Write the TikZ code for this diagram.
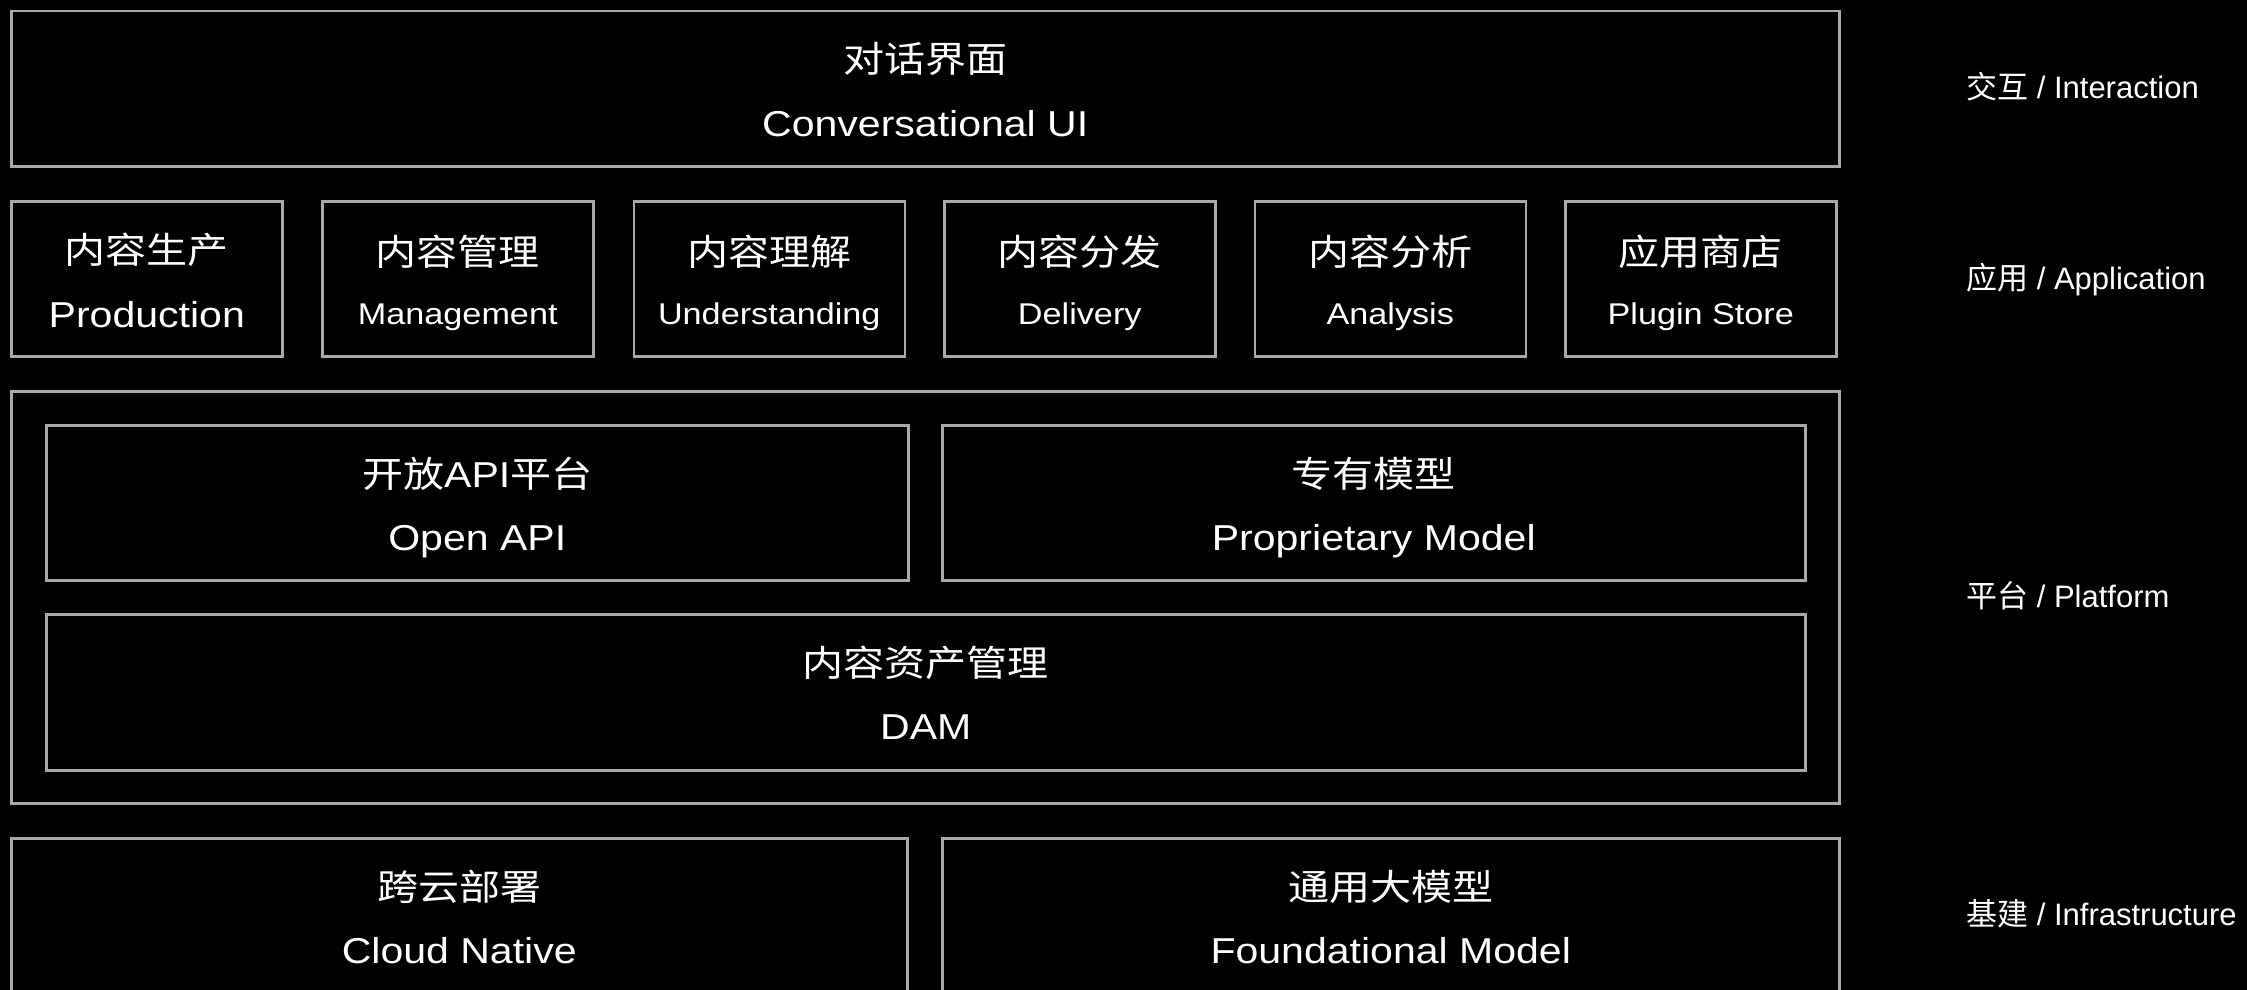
\documentclass[tikz,border=0pt]{standalone}
\usepackage{fontspec}
\setmainfont{Liberation Sans}
\newfontfamily\lat{Liberation Sans}[FakeStretch=1.14]
\newfontfamily\cjk{Noto Sans CJK SC}[FakeStretch=1.14]
\newfontfamily\cjkn{Noto Sans CJK SC}
\definecolor{edge}{HTML}{A8A8A8}
\tikzset{
  box/.style={draw=edge, line width=2.5pt, inner sep=0pt, anchor=north west},
  zh/.style={text=white, font=\cjk\fontsize{36}{40}\selectfont, anchor=base, inner sep=0pt},
  en/.style={text=white, font=\lat\fontsize{36}{40}\selectfont, anchor=base, inner sep=0pt},
  ensm/.style={text=white, font=\lat\fontsize{30}{34}\selectfont, anchor=base, inner sep=0pt},
  side/.style={text=white, font=\fontsize{31}{35}\selectfont, anchor=base west, inner sep=0pt},
  appbox/.style={box, minimum width=271pt, minimum height=155pt},
}
\begin{document}
\begin{tikzpicture}[x=1pt, y=-1pt]
\fill[black] (0,0) rectangle (2247,990);
\clip (0,0) rectangle (2247,990);
\useasboundingbox (0,0) rectangle (2247,990);

% Interaction layer
\node[box, minimum width=1828pt, minimum height=155pt] (conv) at (10,10) {};
\node[zh, yshift=-63pt] (convzh) at (conv.north) {对话界面};
\node[en, yshift=-126pt] (conven) at (conv.north) {Conversational UI};

% Application layer
\node[appbox] (a1) at (10,200) {};
\node[appbox] (a2) at (321,200) {};
\node[appbox] (a3) at (632.5,200) {};
\node[appbox] (a4) at (943,200) {};
\node[appbox] (a5) at (1253.5,200) {};
\node[appbox] (a6) at (1564,200) {};
\node[zh, yshift=-63pt] (a1zh) at (a1.north) {内容生产};
\node[en, yshift=-127pt] (a1en) at (a1.north) {Production};
\node[zh, yshift=-65pt] (a2zh) at (a2.north) {内容管理};
\node[ensm, yshift=-124pt] (a2en) at (a2.north) {Management};
\node[zh, yshift=-65pt] (a3zh) at (a3.north) {内容理解};
\node[ensm, yshift=-124pt] (a3en) at (a3.north) {Understanding};
\node[zh, yshift=-65pt] (a4zh) at (a4.north) {内容分发};
\node[ensm, yshift=-124pt] (a4en) at (a4.north) {Delivery};
\node[zh, yshift=-65pt] (a5zh) at (a5.north) {内容分析};
\node[ensm, yshift=-124pt] (a5en) at (a5.north) {Analysis};
\node[zh, yshift=-65pt] (a6zh) at (a6.north) {应用商店};
\node[ensm, yshift=-124pt] (a6en) at (a6.north) {Plugin Store};

% Platform layer
\node[box, minimum width=1828pt, minimum height=412pt] (plat) at (10,390) {};
\node[box, minimum width=862pt, minimum height=155pt] (api) at (45,424) {};
\node[box, minimum width=863pt, minimum height=155pt] (prop) at (941,424) {};
\node[box, minimum width=1759pt, minimum height=156pt] (dam) at (45,613) {};
\node[zh, yshift=-63pt] (apizh) at (api.north) {开放{\lat API}平台};
\node[en, yshift=-126pt] (apien) at (api.north) {Open API};
\node[zh, yshift=-63pt] (propzh) at (prop.north) {专有模型};
\node[en, yshift=-126pt] (propen) at (prop.north) {Proprietary Model};
\node[zh, yshift=-63pt] (damzh) at (dam.north) {内容资产管理};
\node[en, yshift=-126pt] (damen) at (dam.north) {DAM};

% Infrastructure layer
\node[box, minimum width=896pt, minimum height=200pt] (cloud) at (10,837) {};
\node[box, minimum width=897pt, minimum height=200pt] (found) at (941,837) {};
\node[zh, yshift=-63pt] (cloudzh) at (cloud.north) {跨云部署};
\node[en, yshift=-126pt] (clouden) at (cloud.north) {Cloud Native};
\node[zh, yshift=-63pt] (foundzh) at (found.north) {通用大模型};
\node[en, yshift=-126pt] (founden) at (found.north) {Foundational Model};

% Side labels
\node[side] (l1) at (1966,99) {{\cjkn 交互} / Interaction};
\node[side] (l2) at (1966,289) {{\cjkn 应用} / Application};
\node[side] (l3) at (1966,607) {{\cjkn 平台} / Platform};
\node[side] (l4) at (1966,925) {{\cjkn 基建} / Infrastructure};
\end{tikzpicture}
\end{document}
